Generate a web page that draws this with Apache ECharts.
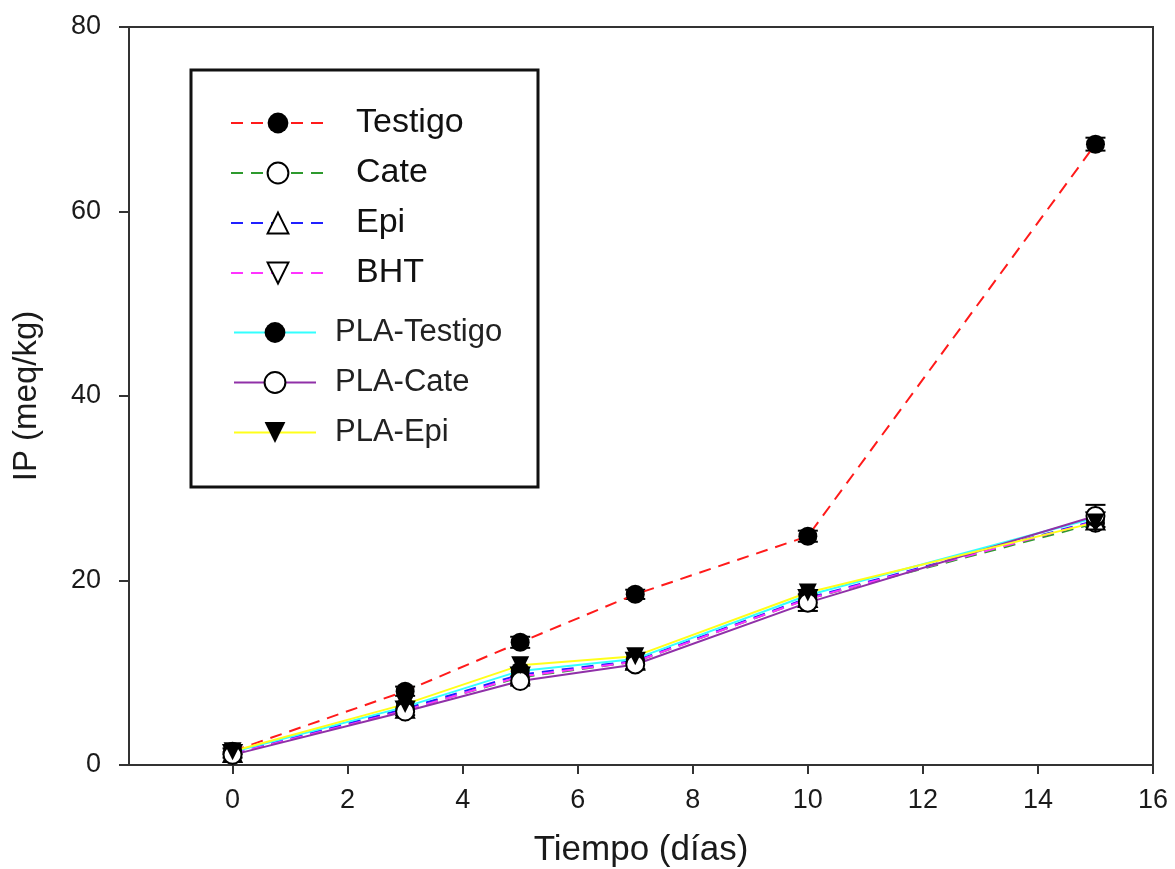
<!DOCTYPE html>
<html>
<head>
<meta charset="utf-8">
<script src="https://cdn.jsdelivr.net/npm/echarts@6/dist/echarts.min.js"></script>
<style>
  html, body { margin: 0; padding: 0; background: #ffffff; }
  #chart { width: 1175px; height: 869px; }
</style>
</head>
<body>
<div id="chart"></div>
<script>
// Storage days
const days = [0, 3, 5, 7, 10, 15];
const xTicks = [0, 2, 4, 6, 8, 10, 12, 14, 16];

// Peroxide index (meq/kg) for each treatment
const testigo    = [1.5, 8.0, 13.3, 18.5, 24.8, 67.3];
const cate       = [1.2, 6.0, 9.5, 11.2, 18.0, 26.2];
const epi        = [1.3, 6.1, 9.8, 11.3, 18.1, 26.5];
const bht        = [1.2, 5.9, 9.6, 11.2, 18.0, 26.4];
const plaTestigo = [1.4, 6.3, 10.2, 11.5, 18.4, 26.8];
const plaCate    = [1.1, 5.8, 9.1, 10.9, 17.6, 27.0];
const plaEpi     = [1.5, 6.6, 10.8, 11.8, 18.7, 26.3];

// Standard deviations shown as error bars
const testigoErr = [0.3, 0.5, 0.6, 0.5, 0.6, 0.7];
const plaCateErr = [0.3, 0.4, 0.5, 0.5, 0.9, 1.2];

const FONT = "'Liberation Sans', Arial, sans-serif";
const downTri = 'path://M0,0 L20,0 L10,18 Z';

const pairs = vals => days.map((d, i) => [d, vals[i]]);

function lineSeries(name, vals, color, dashed, symbol, filled, size) {
  return {
    name: name,
    type: 'line',
    data: pairs(vals),
    symbol: symbol,
    symbolSize: size,
    showAllSymbol: true,
    lineStyle: { color: color, width: 2, type: dashed ? [12, 8] : 'solid' },
    itemStyle: {
      color: filled ? '#000000' : '#ffffff',
      borderColor: '#000000',
      borderWidth: filled ? 0 : 2
    },
    emphasis: { disabled: true },
    animation: false
  };
}

function errorSeries(vals, errs) {
  return {
    type: 'custom',
    data: days.map((d, i) => [d, vals[i] - errs[i], vals[i] + errs[i]]),
    renderItem: function (params, api) {
      const lo = api.coord([api.value(0), api.value(1)]);
      const hi = api.coord([api.value(0), api.value(2)]);
      const w = 10;
      const st = { stroke: '#000000', lineWidth: 2 };
      return {
        type: 'group',
        children: [
          { type: 'line', shape: { x1: lo[0], y1: lo[1], x2: hi[0], y2: hi[1] }, style: st },
          { type: 'line', shape: { x1: lo[0] - w, y1: lo[1], x2: lo[0] + w, y2: lo[1] }, style: st },
          { type: 'line', shape: { x1: hi[0] - w, y1: hi[1], x2: hi[0] + w, y2: hi[1] }, style: st }
        ]
      };
    },
    z: 1,
    silent: true,
    animation: false
  };
}

const chart = echarts.init(document.getElementById('chart'), null, { renderer: 'canvas' });

chart.setOption({
  backgroundColor: '#ffffff',
  animation: false,
  grid: {
    left: 129, right: 22, top: 27, bottom: 104,
    show: true, borderColor: '#333333', borderWidth: 2,
    containLabel: false, outerBoundsMode: 'none'
  },
  xAxis: {
    type: 'value',
    min: -1.8,
    max: 16,
    name: 'Tiempo (días)',
    nameLocation: 'middle',
    nameGap: 68,
    nameTextStyle: { fontFamily: FONT, fontSize: 35, color: '#1a1a1a' },
    axisLine: { show: true, onZero: false, lineStyle: { color: '#333333', width: 2 } },
    axisTick: { show: true, length: 9, customValues: xTicks, lineStyle: { color: '#333333', width: 2 } },
    axisLabel: { customValues: xTicks, margin: 22, fontFamily: FONT, fontSize: 27, color: '#1a1a1a' },
    splitLine: { show: false }
  },
  yAxis: {
    type: 'value',
    min: 0,
    max: 80,
    interval: 20,
    name: 'IP (meq/kg)',
    nameLocation: 'middle',
    nameGap: 86,
    nameTextStyle: { fontFamily: FONT, fontSize: 33, color: '#1a1a1a' },
    axisLine: { show: true, onZero: false, lineStyle: { color: '#333333', width: 2 } },
    axisTick: { show: true, length: 10, lineStyle: { color: '#333333', width: 2 } },
    axisLabel: { margin: 28, fontFamily: FONT, fontSize: 27, color: '#1a1a1a' },
    splitLine: { show: false }
  },
  legend: [
    {
      data: ['Testigo', 'Cate', 'Epi', 'BHT'],
      orient: 'vertical',
      left: 225,
      top: 101,
      itemWidth: 94,
      itemHeight: 26,
      itemGap: 16,
      textStyle: { fontFamily: FONT, fontSize: 34, color: '#111111', padding: [0, 0, 0, 26] },
      selectedMode: false
    },
    {
      data: ['PLA-Testigo', 'PLA-Cate', 'PLA-Epi'],
      orient: 'vertical',
      left: 228,
      top: 312,
      itemWidth: 82,
      itemHeight: 26,
      itemGap: 19,
      textStyle: { fontFamily: FONT, fontSize: 31, color: '#222222', padding: [0, 0, 0, 14] },
      selectedMode: false
    }
  ],
  graphic: [
    {
      type: 'rect',
      shape: { x: 191, y: 70, width: 347, height: 417 },
      style: { fill: 'none', stroke: '#111111', lineWidth: 3 },
      z: 100
    }
  ],
  series: [
    errorSeries(testigo, testigoErr),
    errorSeries(plaCate, plaCateErr),
    lineSeries('Testigo', testigo, '#ff1a1a', true, 'circle', true, 19),
    lineSeries('Cate', cate, '#2e9a2e', true, 'circle', false, 17),
    lineSeries('Epi', epi, '#2020ff', true, 'triangle', false, 18),
    lineSeries('BHT', bht, '#ff33ff', true, downTri, false, 18),
    lineSeries('PLA-Testigo', plaTestigo, '#33ffff', false, 'circle', true, 19),
    lineSeries('PLA-Cate', plaCate, '#9030a8', false, 'circle', false, 18),
    lineSeries('PLA-Epi', plaEpi, '#ffff1a', false, downTri, true, 18)
  ]
});
</script>
</body>
</html>
